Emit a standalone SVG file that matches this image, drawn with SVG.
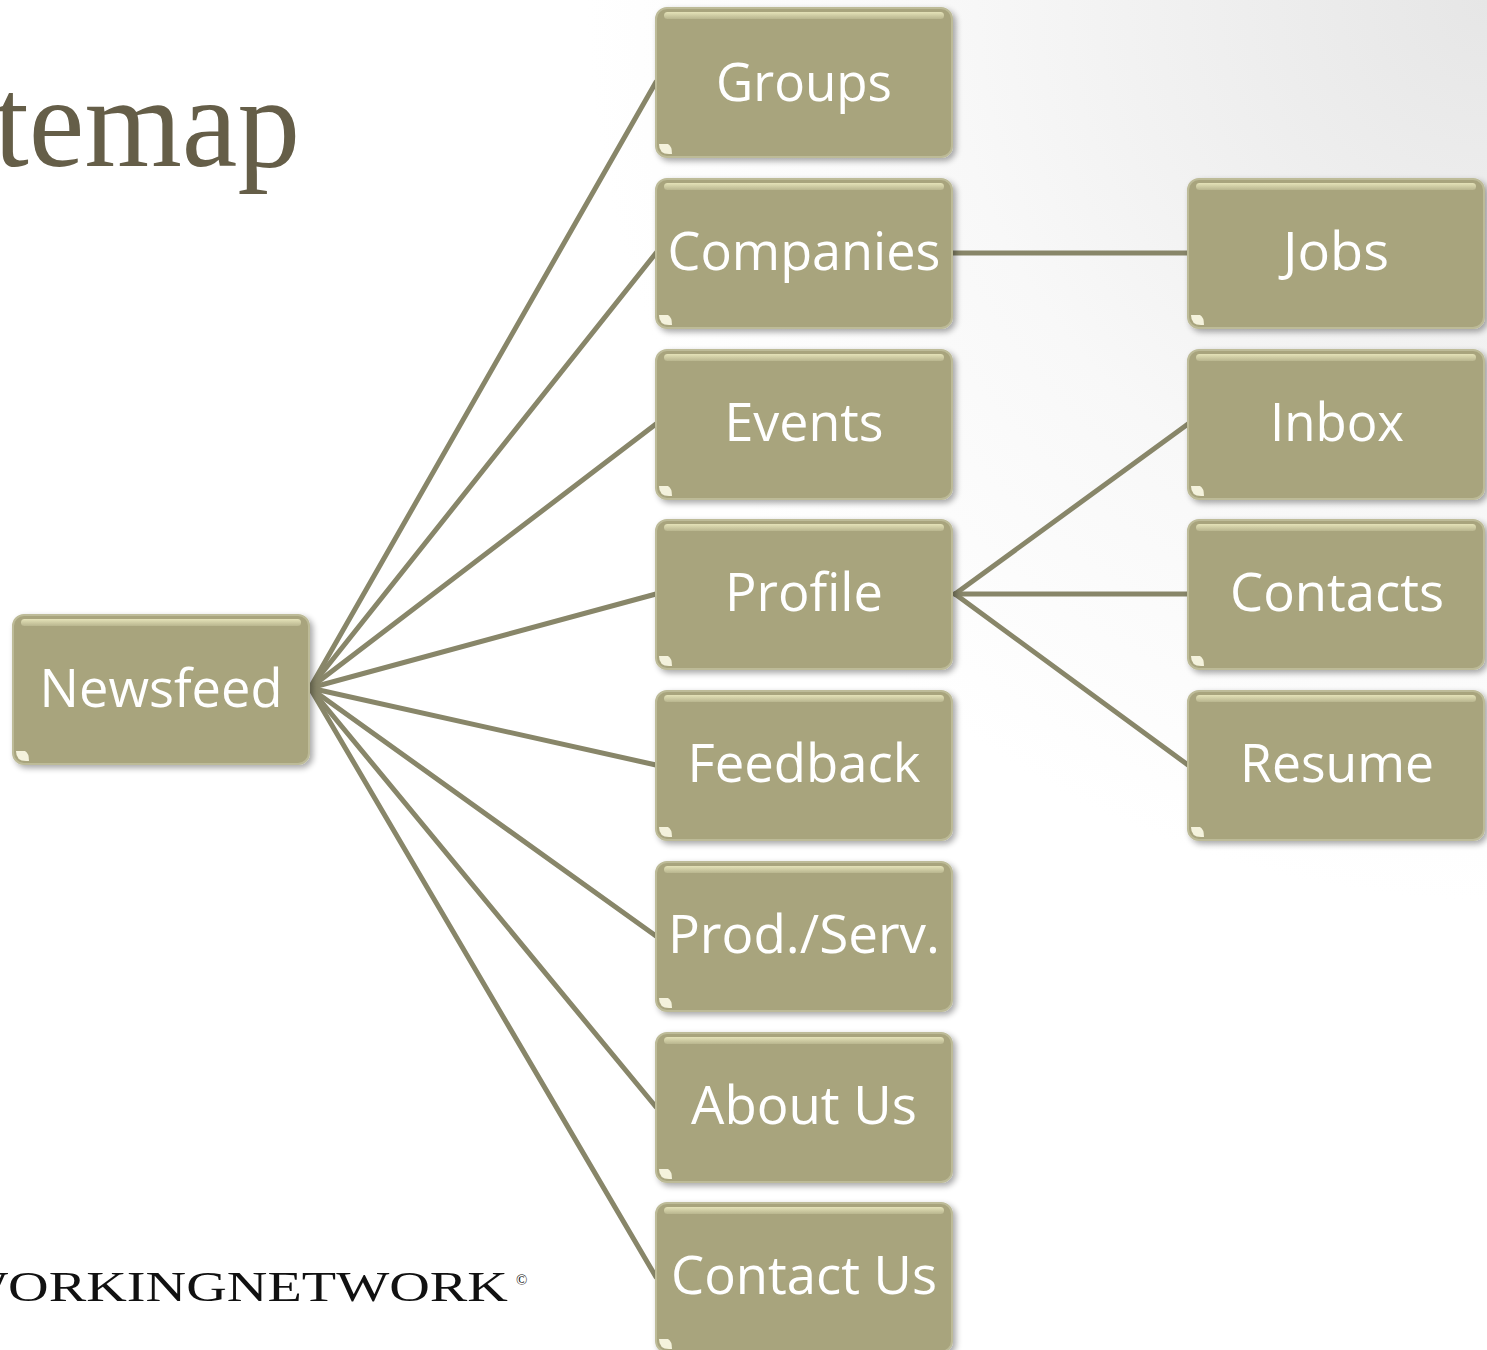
<svg xmlns="http://www.w3.org/2000/svg" width="1487" height="1350" viewBox="0 0 1487 1350">
<defs>
<radialGradient id="bg" cx="1487" cy="0" r="900" gradientUnits="userSpaceOnUse">
<stop offset="0" stop-color="#e6e6e6"/>
<stop offset="0.6" stop-color="#f8f8f8"/>
<stop offset="1" stop-color="#ffffff"/>
</radialGradient>
<linearGradient id="hl" x1="0" y1="0" x2="0" y2="1">
<stop offset="0" stop-color="#e4e2b8"/>
<stop offset="1" stop-color="#b9b68f"/>
</linearGradient>
<filter id="sh" x="-5%" y="-5%" width="115%" height="120%">
<feGaussianBlur in="SourceAlpha" stdDeviation="3"/>
<feOffset dx="3" dy="3" result="b"/>
<feComponentTransfer><feFuncA type="linear" slope="0.35"/></feComponentTransfer>
<feMerge><feMergeNode/><feMergeNode in="SourceGraphic"/></feMerge>
</filter>
<g id="box">
<rect x="0" y="0" width="296" height="149" rx="11" fill="#a8a47d" stroke="#bdbb98" stroke-width="2"/>
<rect x="8" y="4" width="280" height="7" rx="3.5" fill="url(#hl)"/>
<path d="M3 136 Q3 146 13 146 L16 146 Q16 138 12 136 Z" fill="#f4f2dc"/>
</g>
</defs>
<style>
.lbl{font-family:"Open Sans","Noto Sans",sans-serif;font-size:53px;fill:#ffffff;text-anchor:middle}
.con{stroke:#888669;stroke-width:5;fill:none;stroke-linecap:round}
</style>
<rect x="0" y="0" width="1487" height="1350" fill="url(#bg)"/>
<text x="300" y="166" text-anchor="end" textLength="306" lengthAdjust="spacingAndGlyphs" font-family="'Liberation Serif',serif" font-size="130" fill="#655e48">temap</text>
<text x="-45" y="1301" textLength="553" lengthAdjust="spacingAndGlyphs" font-family="'Liberation Serif',serif" font-size="42" fill="#111111">WORKINGNETWORK</text>
<text x="516" y="1285" font-family="'Liberation Serif',serif" font-size="15" fill="#111111">©</text>
<g id="connectors">
<line class="con" x1="310" y1="688" x2="656" y2="82"/>
<line class="con" x1="310" y1="688" x2="656" y2="253"/>
<line class="con" x1="310" y1="688" x2="656" y2="424"/>
<line class="con" x1="310" y1="688" x2="656" y2="594"/>
<line class="con" x1="310" y1="688" x2="656" y2="765"/>
<line class="con" x1="310" y1="688" x2="656" y2="936"/>
<line class="con" x1="310" y1="688" x2="656" y2="1107"/>
<line class="con" x1="310" y1="688" x2="656" y2="1277"/>
<line class="con" x1="952" y1="253" x2="1188" y2="253"/>
<line class="con" x1="955" y1="594" x2="1188" y2="424"/>
<line class="con" x1="955" y1="594" x2="1188" y2="594"/>
<line class="con" x1="955" y1="594" x2="1188" y2="765"/>
</g>
<g id="n-newsfeed" filter="url(#sh)"><use href="#box" x="13" y="615"/><text class="lbl" x="161" y="707" textLength="243" lengthAdjust="spacingAndGlyphs">Newsfeed</text></g>
<g id="n-groups" filter="url(#sh)"><use href="#box" x="656" y="8"/><text class="lbl" x="804" y="101" textLength="176" lengthAdjust="spacingAndGlyphs">Groups</text></g>
<g id="n-companies" filter="url(#sh)"><use href="#box" x="656" y="179"/><text class="lbl" x="804" y="270" textLength="273" lengthAdjust="spacingAndGlyphs">Companies</text></g>
<g id="n-events" filter="url(#sh)"><use href="#box" x="656" y="350"/><text class="lbl" x="804" y="441" textLength="159" lengthAdjust="spacingAndGlyphs">Events</text></g>
<g id="n-profile" filter="url(#sh)"><use href="#box" x="656" y="520"/><text class="lbl" x="804" y="611" textLength="158" lengthAdjust="spacingAndGlyphs">Profile</text></g>
<g id="n-feedback" filter="url(#sh)"><use href="#box" x="656" y="691"/><text class="lbl" x="804" y="782" textLength="233" lengthAdjust="spacingAndGlyphs">Feedback</text></g>
<g id="n-prodserv" filter="url(#sh)"><use href="#box" x="656" y="862"/><text class="lbl" x="804" y="953" textLength="272" lengthAdjust="spacingAndGlyphs">Prod./Serv.</text></g>
<g id="n-aboutus" filter="url(#sh)"><use href="#box" x="656" y="1033"/><text class="lbl" x="804" y="1124" textLength="226" lengthAdjust="spacingAndGlyphs">About Us</text></g>
<g id="n-contactus" filter="url(#sh)"><use href="#box" x="656" y="1203"/><text class="lbl" x="804" y="1294" textLength="266" lengthAdjust="spacingAndGlyphs">Contact Us</text></g>
<g id="n-jobs" filter="url(#sh)"><use href="#box" x="1188" y="179"/><text class="lbl" x="1336" y="270" textLength="106" lengthAdjust="spacingAndGlyphs">Jobs</text></g>
<g id="n-inbox" filter="url(#sh)"><use href="#box" x="1188" y="350"/><text class="lbl" x="1337" y="441" textLength="134" lengthAdjust="spacingAndGlyphs">Inbox</text></g>
<g id="n-contacts" filter="url(#sh)"><use href="#box" x="1188" y="520"/><text class="lbl" x="1337" y="611" textLength="214" lengthAdjust="spacingAndGlyphs">Contacts</text></g>
<g id="n-resume" filter="url(#sh)"><use href="#box" x="1188" y="691"/><text class="lbl" x="1337" y="782" textLength="194" lengthAdjust="spacingAndGlyphs">Resume</text></g>
</svg>
